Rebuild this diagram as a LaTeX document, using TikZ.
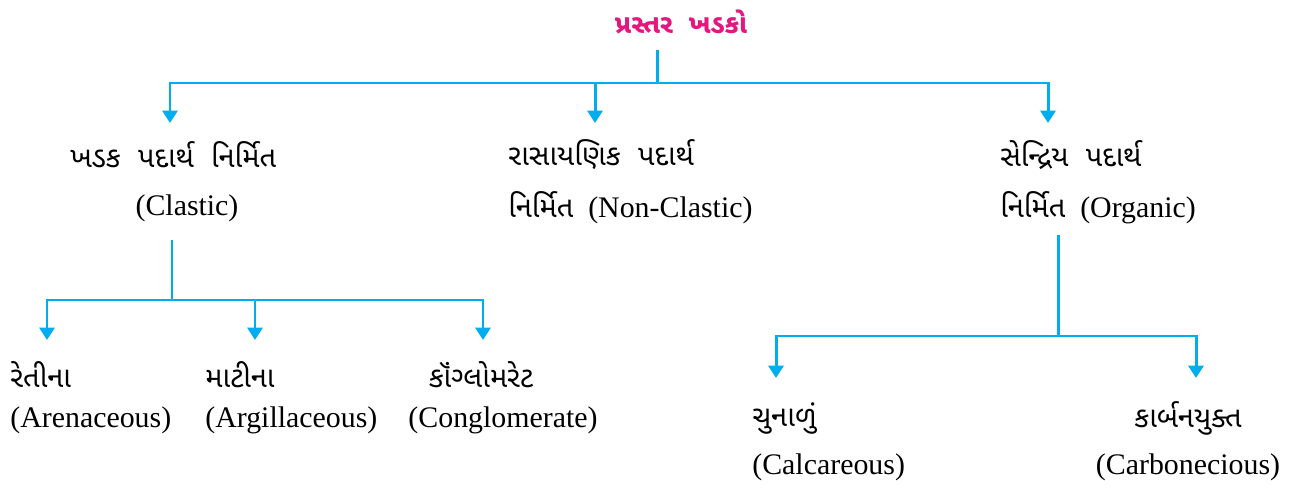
\documentclass[tikz,border=0pt]{standalone}
\usepackage{fontspec}
\setmainfont{Liberation Serif}
\newfontfamily\gujfont[Script=Gujarati]{Noto Sans Gujarati UI}
\usetikzlibrary{arrows.meta}

\definecolor{linkblue}{HTML}{00AEEF}
\definecolor{titlepink}{HTML}{E5177F}
\newcommand\gujtext[1]{{\gujfont\fontsize{16.5}{19}\selectfont #1}}

\tikzset{
  link/.style={draw=linkblue, line width=1.7pt},
  arr/.style={link, -{Triangle[width=8.5pt,length=7pt]}},
  guj/.style={font=\gujfont\fontsize{16.5}{19}\selectfont, inner sep=0pt},
  eng/.style={font=\fontsize{17}{20}\selectfont, inner sep=0pt},
}

\begin{document}
\begin{tikzpicture}[x=0.02cm, y=-0.02cm]
    \useasboundingbox (0,0) rectangle (1298,487);

    % title
    \node[guj, text=titlepink, font=\gujfont\bfseries\fontsize{15}{18}\selectfont] (rocks) at (681,22) {પ્રસ્તર\ \ ખડકો};

    % first level
    \coordinate (top) at (657,50);
    \coordinate (bus) at (657,83);
    \coordinate (busB) at (595,83);
    \coordinate (tipA) at (170,123);
    \coordinate (tipB) at (595,123);
    \coordinate (tipC) at (1048,123);

    \draw[link] (top) -- (bus);
    \draw[arr] (bus) -| (tipA);
    \draw[arr] (bus) -| (tipC);
    \draw[arr] (busB) -- (tipB);

    \node[guj, anchor=west] (clastic) at (70,155) {ખડક\ \ પદાર્થ\ \ નિર્મિત};
    \node[eng] (clastic-en) at (187,208) {(Clastic)};
    \node[guj, anchor=west] (chemical) at (508,155) {રાસાયણિક\ \ પદાર્થ};
    \node[eng, anchor=west] (chemical-en) at (508,208) {\gujtext{નિર્મિત}\ \ (Non-Clastic)};
    \node[guj, anchor=west] (organic) at (1000,155) {સેન્દ્રિય\ \ પદાર્થ};
    \node[eng, anchor=west] (organic-en) at (1000,208) {\gujtext{નિર્મિત}\ \ (Organic)};

    % clastic branch
    \coordinate (clasticstem) at (172,240);
    \coordinate (clasticbus) at (172,300);
    \coordinate (clasticmid) at (255,300);
    \coordinate (tipsand) at (47,340);
    \coordinate (tipclay) at (255,340);
    \coordinate (tippebble) at (483,340);

    \draw[link] (clasticstem) -- (clasticbus);
    \draw[arr] (clasticbus) -| (tipsand);
    \draw[arr] (clasticbus) -| (tippebble);
    \draw[arr] (clasticmid) -- (tipclay);

    \node[guj, anchor=west] (sand) at (10,375) {રેતીના};
    \node[eng, anchor=west] (sand-en) at (10,420) {(Arenaceous)};
    \node[guj, anchor=west] (clay) at (205,375) {માટીના};
    \node[eng, anchor=west] (clay-en) at (205,420) {(Argillaceous)};
    \node[guj] (pebble) at (481,375) {કૉંગ્લોમરેટ};
    \node[eng] (pebble-en) at (503,420) {(Conglomerate)};

    % organic branch
    \coordinate (organicstem) at (1058,235);
    \coordinate (organicbus) at (1058,336);
    \coordinate (tiplime) at (776,378);
    \coordinate (tipcarbon) at (1196,378);

    \draw[link] (organicstem) -- (organicbus);
    \draw[arr] (organicbus) -| (tiplime);
    \draw[arr] (organicbus) -| (tipcarbon);

    \node[guj, anchor=west] (lime) at (752,418) {ચુનાળું};
    \node[eng, anchor=west] (lime-en) at (752,467) {(Calcareous)};
    \node[guj] (carbon) at (1188,418) {કાર્બનયુક્ત};
    \node[eng] (carbon-en) at (1188,467) {(Carbonecious)};
\end{tikzpicture}
\end{document}
